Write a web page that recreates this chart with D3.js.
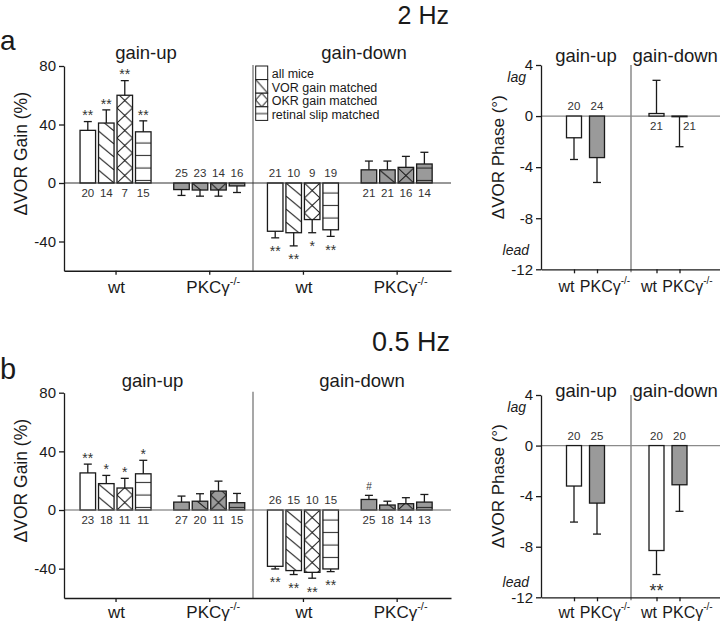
<!DOCTYPE html>
<html><head><meta charset="utf-8">
<script src="https://cdn.jsdelivr.net/npm/d3@7"></script>
<style>
body{margin:0;background:#fff;}
svg{display:block;font-family:"Liberation Sans",Arial,sans-serif;}
</style>
</head><body>
<svg id="c" width="720" height="623"></svg>
<script>
// ---------------- DATA ----------------
const series = ["all mice", "VOR gain matched", "OKR gain matched", "retinal slip matched"];
const seriesPattern = ["none", "diag", "cross", "horiz"];
const conditions = ["gain-up", "gain-down"];
const genotypes = ["wt", "PKCγ"];
const gainTicks = [80, 40, 0, -40];
const phaseTicks = [4, 0, -4, -8, -12];

// 2 Hz, ΔVOR gain (%)
const g2UpWt = [36, 41, 60, 35],      g2UpWtErr = [6, 9, 10, 7.5],   g2UpWtN = [20, 14, 7, 15],  g2UpWtSig = ["**", "**", "**", "**"];
const g2UpPkc = [-4.5, -4.8, -4.8, -2], g2UpPkcErr = [4, 4.2, 4.2, 4.5], g2UpPkcN = [25, 23, 14, 16], g2UpPkcSig = ["", "", "", ""];
const g2DnWt = [-33, -34, -25, -32],  g2DnWtErr = [4.5, 9, 9, 4.5],  g2DnWtN = [21, 10, 9, 19],  g2DnWtSig = ["**", "**", "*", "**"];
const g2DnPkc = [9, 9, 10.7, 13],     g2DnPkcErr = [6, 6, 7.5, 8],   g2DnPkcN = [21, 21, 16, 14], g2DnPkcSig = ["", "", "", ""];

// 0.5 Hz, ΔVOR gain (%)
const g05UpWt = [25.3, 18, 15, 24.7],  g05UpWtErr = [6, 5.6, 6.6, 9.2],  g05UpWtN = [23, 18, 11, 11], g05UpWtSig = ["**", "*", "*", "*"];
const g05UpPkc = [5.4, 6, 12.9, 5],    g05UpPkcErr = [4.1, 5.1, 6.8, 6.3], g05UpPkcN = [27, 20, 11, 15], g05UpPkcSig = ["", "", "", ""];
const g05DnWt = [-38.4, -41.3, -42.5, -40.2], g05DnWtErr = [1.8, 2.7, 4, 1.8], g05DnWtN = [26, 15, 10, 15], g05DnWtSig = ["**", "**", "**", "**"];
const g05DnPkc = [7.2, 3.4, 4.3, 5.4], g05DnPkcErr = [2.8, 2.6, 4.1, 5.2], g05DnPkcN = [25, 18, 14, 13], g05DnPkcSig = ["#", "", "", ""];

// ΔVOR phase (°): order [gain-up wt, gain-up PKC, gain-down wt, gain-down PKC]
const p2Vals = [-1.7, -3.25, 0.2, -0.05], p2Err = [1.7, 1.95, 2.6, 2.35], p2N = [20, 24, 21, 21], p2Sig = ["", "", "", ""];
const p05Vals = [-3.2, -4.55, -8.3, -3.1], p05Err = [2.85, 2.45, 1.9, 2.1], p05N = [20, 25, 20, 20], p05Sig = ["", "", "**", ""];

// ---------------- DRAWING ----------------
const INK = "#1a1a1a", GRAYFILL = "#9a9a9a", DIV = "#8a8a8a", NUM = "#333";
const svg = d3.select("#c");
const defs = svg.append("defs");
let pid = 0;

function addPattern(type, x, y, w, h, ly) {
  const id = "pat" + (pid++);
  const p = defs.append("pattern").attr("id", id).attr("patternUnits", "userSpaceOnUse")
    .attr("x", x).attr("y", y).attr("width", w).attr("height", h);
  const ln = (x1, y1, x2, y2) => p.append("line").attr("x1", x1).attr("y1", y1).attr("x2", x2).attr("y2", y2)
    .attr("stroke", INK).attr("stroke-width", 1);
  if (type === "diag") { ln(0, 0, w, h); ln(-w, 0, 0, h); ln(w, 0, 2 * w, h); }
  else if (type === "cross") { ln(0, 0, w, h); ln(w, 0, 0, h); }
  else if (type === "horiz") { ln(0, ly, w, ly); }
  return id;
}

function styleAxis(sel, fs) {
  sel.selectAll("path,line").attr("stroke", INK).attr("stroke-width", 1.3);
  sel.selectAll("text").attr("font-size", fs).attr("fill", INK).attr("font-family", '"Liberation Sans",Arial,sans-serif');
}
const fmt = d => String(d);

function drawBar(g, b) {
  const y0 = b.y(0);
  const bx = b.cx - b.bw / 2;
  const yt = b.y(Math.max(b.v, 0)), yb = b.y(Math.min(b.v, 0));
  g.append("rect").attr("x", bx).attr("y", yt).attr("width", b.bw).attr("height", Math.max(yb - yt, 0.1))
    .attr("fill", b.wt ? "#fff" : GRAYFILL);
  if (b.pat && b.pat !== "none") {
    const th = b.pat === "diag" ? 13 : (b.pat === "cross" ? 15 : 12.5);
    const id = addPattern(b.pat, bx, y0, b.bw, th, 10);
    g.append("rect").attr("x", bx).attr("y", yt).attr("width", b.bw).attr("height", Math.max(yb - yt, 0.1))
      .attr("fill", `url(#${id})`);
  }
  g.append("rect").attr("x", bx).attr("y", yt).attr("width", b.bw).attr("height", Math.max(yb - yt, 0.1))
    .attr("fill", "none").attr("stroke", INK).attr("stroke-width", 1.3);
  const sgn = b.v >= 0 ? 1 : -1;
  const ye = b.y(b.v + sgn * b.e);
  const ys = b.y(b.v);
  g.append("line").attr("x1", b.cx).attr("x2", b.cx).attr("y1", ys).attr("y2", ye).attr("stroke", INK).attr("stroke-width", 1.3);
  g.append("line").attr("x1", b.cx - 4).attr("x2", b.cx + 4).attr("y1", ye).attr("y2", ye).attr("stroke", INK).attr("stroke-width", 1.3);
  let below = b.v >= 0, dx = 0;
  if (b.v < 0 && Math.abs(b.v) < 0.5) { below = true; dx = 10; }
  g.append("text").attr("x", b.cx + dx).attr("y", below ? y0 + 14 : y0 - 6)
    .attr("text-anchor", "middle").attr("font-size", b.nFs || 11.5).attr("fill", NUM).text(b.n);
  if (b.sig) {
    if (b.sig === "#") {
      g.append("text").attr("x", b.cx).attr("y", ye - 5).attr("text-anchor", "middle")
        .attr("font-size", 10).attr("fill", NUM).text("#");
    } else {
      const fs = b.sigFs || 14;
      g.append("text").attr("x", b.cx).attr("y", sgn > 0 ? ye - 1.3 : ye + (b.sigNegOff || 18))
        .attr("text-anchor", "middle").attr("font-size", fs).attr("fill", NUM).text(b.sig);
    }
  }
}

function pkcLabel(g, x, y, fs, supFs) {
  const t = g.append("text").attr("x", x).attr("y", y).attr("text-anchor", "middle").attr("font-size", fs).attr("fill", INK);
  t.append("tspan").text("PKCγ");
  t.append("tspan").attr("dy", -fs * 0.5).attr("font-size", supFs).text("-/-");
}

function gainPanel(cfg) {
  const g = svg.append("g");
  const y = d3.scaleLinear().domain([-60, 80]).range(cfg.yRange);
  const xG = d3.scaleLinear().domain([-0.55, 3.58]).range([64, 451]);
  const inner = d3.scaleBand().domain(series).range([-35.5, 35.5]).paddingInner(0.16);
  const bw = inner.bandwidth();
  g.append("line").attr("x1", 253).attr("x2", 253).attr("y1", y(80) - 1).attr("y2", y(-60))
    .attr("stroke", DIV).attr("stroke-width", 1.5);
  cfg.groups.forEach((grp, gi) => {
    grp.vals.forEach((v, si) => {
      drawBar(g, {
        cx: xG(gi) + inner(series[si]) + bw / 2, bw, y, v, e: grp.errs[si], n: grp.ns[si], sig: grp.sigs[si],
        wt: grp.wt, pat: seriesPattern[si], sigFs: 14, sigNegOff: 18.5
      });
    });
  });
  g.append("line").attr("x1", 64).attr("x2", 451).attr("y1", y(0)).attr("y2", y(0)).attr("stroke", cfg.zeroColor).attr("stroke-width", 1.2);
  const ay = g.append("g").attr("transform", "translate(64,0)")
    .call(d3.axisLeft(y).tickValues(gainTicks).tickFormat(fmt).tickSize(5).tickSizeOuter(0));
  styleAxis(ay, 15);
  const ax = g.append("g").attr("transform", `translate(0,${y(-60)})`)
    .call(d3.axisBottom(xG).tickValues([0, 1, 2, 3]).tickFormat("").tickSize(4).tickSizeOuter(0));
  styleAxis(ax, 15);
  [0, 1, 2, 3].forEach(gi => {
    if (gi % 2 === 0) {
      g.append("text").attr("x", xG(gi) + 1).attr("y", cfg.xLabY).attr("text-anchor", "middle").attr("font-size", 17).attr("fill", INK).text(genotypes[0]);
    } else {
      pkcLabel(g, xG(gi) + 4, cfg.xLabY, 17, 11);
    }
  });
  g.append("text").attr("x", cfg.upX).attr("y", cfg.titleY).attr("text-anchor", "middle").attr("font-size", 18.5).attr("fill", INK).text(conditions[0]);
  g.append("text").attr("x", cfg.dnX).attr("y", cfg.titleY).attr("text-anchor", "middle").attr("font-size", 18.5).attr("fill", INK).text(conditions[1]);
  const yc = (y(80) + y(-40)) / 2;
  g.append("text").attr("transform", `translate(27,${yc}) rotate(-90)`).attr("text-anchor", "middle")
    .attr("font-size", 17.5).attr("fill", INK).text("ΔVOR Gain (%)");
  if (cfg.legend) {
    const lx = 255.7, ly = 66, lw = 12, lh = 13.6;
    series.forEach((s, i) => {
      const by = ly + i * lh;
      g.append("rect").attr("x", lx).attr("y", by).attr("width", lw).attr("height", lh).attr("fill", "#fff");
      const pt = seriesPattern[i];
      if (pt !== "none") {
        const id = "lg" + i;
        const p = defs.append("pattern").attr("id", id).attr("patternUnits", "userSpaceOnUse")
          .attr("x", lx).attr("y", by).attr("width", lw).attr("height", lh);
        const ln = (a, b, c, d) => p.append("line").attr("x1", a).attr("y1", b).attr("x2", c).attr("y2", d).attr("stroke", INK).attr("stroke-width", 1);
        if (pt === "diag") ln(0, 0, lw, lh);
        if (pt === "cross") { ln(0, lh / 2, lw / 2, 0); ln(lw / 2, 0, lw, lh / 2); ln(lw, lh / 2, lw / 2, lh); ln(lw / 2, lh, 0, lh / 2); }
        if (pt === "horiz") ln(0, lh / 2, lw, lh / 2);
        g.append("rect").attr("x", lx).attr("y", by).attr("width", lw).attr("height", lh).attr("fill", `url(#${id})`);
      }
      g.append("rect").attr("x", lx).attr("y", by).attr("width", lw).attr("height", lh).attr("fill", "none").attr("stroke", INK).attr("stroke-width", 1);
      g.append("text").attr("x", lx + 16).attr("y", by + lh - 1.5).attr("font-size", 12.5).attr("fill", INK).text(s);
    });
  }
}

function phasePanel(cfg) {
  const g = svg.append("g");
  const y = d3.scaleLinear().domain([-12, 4]).range(cfg.yRange);
  const xC = d3.scaleLinear().domain([0, 1]).range([585.5, 668]);
  const pos = [0, 1, 2, 3].map(i => xC(Math.floor(i / 2)) + (i % 2 === 0 ? -11.5 : 11.5));
  g.append("line").attr("x1", 631).attr("x2", 631).attr("y1", y(4)).attr("y2", y(-12) + 3)
    .attr("stroke", DIV).attr("stroke-width", 1.5);
  g.append("line").attr("x1", 541).attr("x2", 720).attr("y1", y(0)).attr("y2", y(0)).attr("stroke", DIV).attr("stroke-width", 1.3);
  cfg.vals.forEach((v, i) => {
    drawBar(g, { cx: pos[i], bw: 15, y, v, e: cfg.errs[i], n: cfg.ns[i], sig: cfg.sigs[i], wt: i % 2 === 0, pat: "none", sigFs: 18, sigNegOff: 22, nFs: 11.5 });
  });
  const ay = g.append("g").attr("transform", "translate(541,0)")
    .call(d3.axisLeft(y).tickValues(phaseTicks).tickFormat(fmt).tickSize(5).tickSizeOuter(0));
  styleAxis(ay, 15);
  const idS = d3.scaleIdentity().domain([541, 720]);
  const ax = g.append("g").attr("transform", `translate(0,${y(-12)})`)
    .call(d3.axisBottom(idS).tickValues(pos).tickFormat("").tickSize(4).tickSizeOuter(0));
  styleAxis(ax, 15);
  pos.forEach((p, i) => {
    if (i % 2 === 0) g.append("text").attr("x", p - 7.5).attr("y", cfg.xLabY).attr("text-anchor", "middle").attr("font-size", 16).attr("fill", INK).text(genotypes[0]);
    else pkcLabel(g, p + 8, cfg.xLabY, 16, 10);
  });
  g.append("text").attr("x", 526).attr("y", y(4) + 17).attr("text-anchor", "end").attr("font-style", "italic").attr("font-size", 14).attr("fill", INK).text("lag");
  g.append("text").attr("x", 529).attr("y", y(-12) - cfg.leadOff).attr("text-anchor", "end").attr("font-style", "italic").attr("font-size", 14).attr("fill", INK).text("lead");
  g.append("text").attr("x", 586).attr("y", cfg.titleY).attr("text-anchor", "middle").attr("font-size", 18.5).attr("fill", INK).text(conditions[0]);
  g.append("text").attr("x", 632.5).attr("y", cfg.titleY).attr("text-anchor", "start").attr("font-size", 18.5).attr("fill", INK).text(conditions[1]);
  const yc = (y(4) + y(-12)) / 2 - 10;
  g.append("text").attr("transform", `translate(504,${yc}) rotate(-90)`).attr("text-anchor", "middle")
    .attr("font-size", 17).attr("fill", INK).text("ΔVOR Phase (°)");
}

gainPanel({
  yRange: [270.75, 66], titleY: 59, upX: 146, dnX: 364, xLabY: 293, zeroColor: "#333", legend: true,
  groups: [
    { vals: g2UpWt, errs: g2UpWtErr, ns: g2UpWtN, sigs: g2UpWtSig, wt: true },
    { vals: g2UpPkc, errs: g2UpPkcErr, ns: g2UpPkcN, sigs: g2UpPkcSig, wt: false },
    { vals: g2DnWt, errs: g2DnWtErr, ns: g2DnWtN, sigs: g2DnWtSig, wt: true },
    { vals: g2DnPkc, errs: g2DnPkcErr, ns: g2DnPkcN, sigs: g2DnPkcSig, wt: false }
  ]
});
gainPanel({
  yRange: [598, 392.7], titleY: 387, upX: 152.5, dnX: 362, xLabY: 618, zeroColor: "#666", legend: false,
  groups: [
    { vals: g05UpWt, errs: g05UpWtErr, ns: g05UpWtN, sigs: g05UpWtSig, wt: true },
    { vals: g05UpPkc, errs: g05UpPkcErr, ns: g05UpPkcN, sigs: g05UpPkcSig, wt: false },
    { vals: g05DnWt, errs: g05DnWtErr, ns: g05DnWtN, sigs: g05DnWtSig, wt: true },
    { vals: g05DnPkc, errs: g05DnPkcErr, ns: g05DnPkcN, sigs: g05DnPkcSig, wt: false }
  ]
});
phasePanel({ yRange: [269.3, 65], titleY: 62, xLabY: 292, leadOff: 14, vals: p2Vals, errs: p2Err, ns: p2N, sigs: p2Sig });
phasePanel({ yRange: [597.3, 395], titleY: 397, xLabY: 618, leadOff: 10, vals: p05Vals, errs: p05Err, ns: p05N, sigs: p05Sig });

svg.append("text").attr("x", 0).attr("y", 50).attr("font-size", 28).attr("fill", INK).text("a");
svg.append("text").attr("x", 0).attr("y", 379).attr("font-size", 29).attr("fill", INK).text("b");
svg.append("text").attr("x", 449).attr("y", 23.5).attr("text-anchor", "end").attr("font-size", 25).attr("fill", INK).text("2 Hz");
svg.append("text").attr("x", 450).attr("y", 351).attr("text-anchor", "end").attr("font-size", 27).attr("fill", INK).text("0.5 Hz");
</script>
</body></html>
